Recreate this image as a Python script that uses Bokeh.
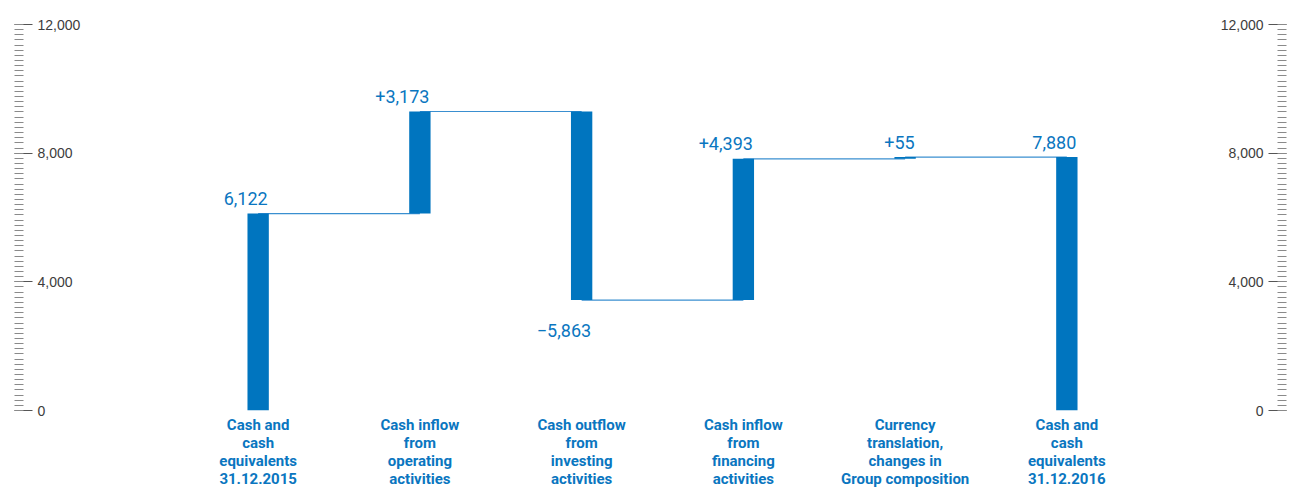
from bokeh.plotting import figure
from bokeh.models import Range1d, FactorRange, FixedTicker, NumeralTickFormatter, ColumnDataSource
from bokeh.layouts import row
from bokeh.core.properties import value
from bokeh.embed import file_html
from bokeh.resources import INLINE

# ---- data ----
categories = [
    "Cash and\ncash\nequivalents\n31.12.2015",
    "Cash inflow\nfrom\noperating\nactivities",
    "Cash outflow\nfrom\ninvesting\nactivities",
    "Cash inflow\nfrom\nfinancing\nactivities",
    "Currency\ntranslation,\nchanges in\nGroup composition",
    "Cash and\ncash\nequivalents\n31.12.2016",
]
opening = 6122
changes = [3173, -5863, 4393, 55]
closing = 7880
value_labels = ["6,122", "+3,173", "\u22125,863", "+4,393", "+55", "7,880"]
major_ticks = [0, 4000, 8000, 12000]
minor_step = 160

# ---- derived geometry from data ----
bottoms, tops = [0], [opening]
level = opening
for c in changes:
    new = level + c
    bottoms.append(min(level, new))
    tops.append(max(level, new))
    level = new
bottoms.append(0)
tops.append(closing)

is_neg = [False] + [c < 0 for c in changes] + [False]
label_y = [b if n else t for b, t, n in zip(bottoms, tops, is_neg)]
label_off = [30 if n else -15 for n in is_neg]

levels = [opening]
lv = opening
for c in changes:
    lv += c
    levels.append(lv)

BLUE = "#0075bf"
TXT_BLUE = "#0a76c0"
LINE_BLUE = "#3a8fd0"
TICK_FONT = "Liberation Sans, Arial, sans-serif"

yr = Range1d(0, 12000)
minor = list(range(0, 12001, minor_step))


def style_axis(ax):
    ax.ticker = FixedTicker(ticks=major_ticks, minor_ticks=minor)
    ax.formatter = NumeralTickFormatter(format="0,0")
    ax.axis_line_color = None
    ax.major_tick_in = 0
    ax.major_tick_out = 18
    ax.minor_tick_in = 0
    ax.minor_tick_out = 9
    ax.major_tick_line_color = "#555555"
    ax.minor_tick_line_color = "#8a8a8a"
    ax.major_label_standoff = 5
    ax.major_label_text_font = TICK_FONT
    ax.major_label_text_font_size = "14px"
    ax.major_label_text_color = "#3c3c3c"


common = dict(toolbar_location=None, output_backend="svg", frame_height=386,
              min_border_top=24, y_range=yr, background_fill_color="white",
              border_fill_color="white")

# left axis figure (ticks point right, labels right of ticks)
pl = figure(width=104, x_range=Range1d(0, 1), min_border_left=0, min_border_right=90,
            min_border_bottom=12, x_axis_location=None, y_axis_location="right", **common)
pl.outline_line_color = None
pl.grid.visible = False
style_axis(pl.yaxis[0])

# main figure
p = figure(width=1116, x_range=FactorRange(factors=categories, range_padding=0.15),
           min_border_left=0, min_border_right=0, min_border_bottom=0,
           y_axis_location=None, **common)
p.outline_line_color = None
p.grid.visible = False

seg = ColumnDataSource(dict(x0=categories[:-1], x1=categories[1:], y=levels))
p.segment(x0="x0", y0="y", x1="x1", y1="y", source=seg, line_color=LINE_BLUE, line_width=1.2)

bars = ColumnDataSource(dict(x=categories, bottom=bottoms, top=tops,
                             ly=label_y, lo=label_off, label=value_labels))
p.vbar(x="x", bottom="bottom", top="top", width=0.132, source=bars,
       fill_color=BLUE, line_color=None)
p.text(x="x", y="ly", text="label", source=bars, x_offset=9.5, y_offset="lo",
       text_align="right", text_baseline="alphabetic", text_color=TXT_BLUE,
       text_font=value("Roboto"), text_font_size="18px")

xa = p.xaxis[0]
xa.axis_line_color = None
xa.major_tick_line_color = None
xa.minor_tick_line_color = None
xa.major_tick_in = 0
xa.major_tick_out = 0
xa.major_label_standoff = 5
xa.major_label_text_font = "Roboto"
xa.major_label_text_font_style = "bold"
xa.major_label_text_font_size = "15px"
xa.major_label_text_color = TXT_BLUE
xa.major_label_text_line_height = 1.0

# right axis figure (ticks point left, labels left of ticks)
pr = figure(width=66, x_range=Range1d(0, 1), min_border_left=65, min_border_right=0,
            min_border_bottom=12, x_axis_location=None, y_axis_location="left", **common)
pr.outline_line_color = None
pr.grid.visible = False
style_axis(pr.yaxis[0])

layout = row(pl, p, pr)
open("out.html", "w").write(file_html(layout, INLINE))
